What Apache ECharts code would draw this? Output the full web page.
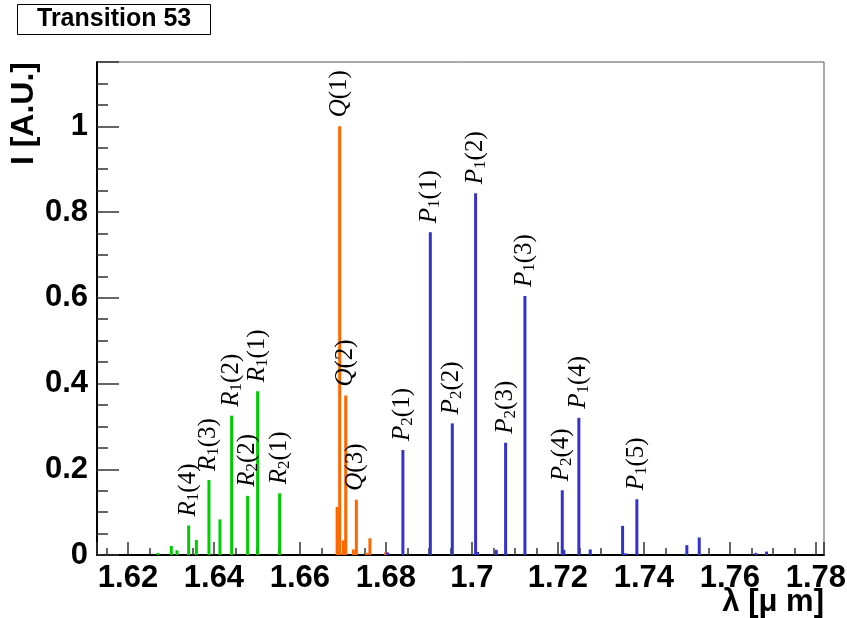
<!DOCTYPE html>
<html>
<head>
<meta charset="utf-8">
<script src="https://cdn.jsdelivr.net/npm/echarts@6/dist/echarts.min.js"></script>
<style>
  html, body { margin: 0; padding: 0; background: #fff; }
  #chart { width: 847px; height: 618px; }
</style>
</head>
<body>
<div id="chart"></div>
<script>
// R branch lines (µm, relative intensity, line label)
const rLambda    = [1.62698, 1.63009, 1.63140, 1.63412, 1.63591, 1.63884, 1.64140, 1.64412, 1.64784, 1.65016, 1.65528];
const rIntensity = [0.005,   0.021,   0.011,   0.069,   0.035,   0.175,   0.083,   0.325,   0.138,   0.382,   0.144];
const rLabels    = ['',      '',      '',      'R_1(4)', '',     'R_1(3)', '',      'R_1(2)', 'R_2(2)', 'R_1(1)', 'R_2(1)'];

// Q branch lines
const qLambda    = [1.66865, 1.66925, 1.67012, 1.67065, 1.67242, 1.67312, 1.67551, 1.67628, 1.67993];
const qIntensity = [0.112,   1.000,   0.034,   0.372,   0.013,   0.129,   0.005,   0.039,   0.006];
const qLabels    = ['',      'Q(1)',  '',      'Q(2)',  '',      'Q(3)',  '',      '',      ''];

// P branch lines
const pLambda    = [1.68040, 1.68395, 1.69033, 1.69544, 1.70086, 1.70133, 1.70567, 1.70784, 1.71233, 1.72102, 1.72140, 1.72488, 1.72753, 1.73505, 1.73574, 1.73837, 1.75000, 1.75288, 1.76605, 1.76853];
const pIntensity = [0.006,   0.245,   0.753,   0.307,   0.844,   0.007,   0.012,   0.262,   0.604,   0.151,   0.012,   0.320,   0.013,   0.068,   0.004,   0.130,   0.023,   0.041,   0.005,   0.008];
const pLabels    = ['',      'P_2(1)', 'P_1(1)', 'P_2(2)', 'P_1(2)', '',   '',      'P_2(3)', 'P_1(3)', 'P_2(4)', '',    'P_1(4)', '',      '',      '',      'P_1(5)', '',      '',      '',      ''];

// Axis tick labels
const xTickLabels = ['1.62', '1.64', '1.66', '1.68', '1.7', '1.72', '1.74', '1.76', '1.78'];
const yTickLabels = ['0', '0.2', '0.4', '0.6', '0.8', '1'];

const titleText = 'Transition 53';
const xTitle = 'λ [μ m]';
const yTitle = 'I [A.U.]';

// "R_1(4)" -> italic letter, subscript, upright rest
function toRich(s) {
  const m = s.match(/^([A-Z])(?:_(\d))?(.*)$/);
  let out = '{it|' + m[1] + '}';
  if (m[2]) out += '{sub|' + m[2] + '}';
  out += '{rm|' + m[3] + '}';
  return out;
}

const SERIF = '"Liberation Serif", "DejaVu Serif", serif';
const SANS = '"Liberation Sans", Arial, sans-serif';

const lineLabel = {
  position: 'top',
  rotate: 90,
  align: 'left',
  verticalAlign: 'middle',
  distance: 12,
  offset: [-3, 0],
  rich: {
    it:  { fontFamily: SERIF, fontStyle: 'italic', fontSize: 25, lineHeight: 26, verticalAlign: 'top', color: '#000' },
    rm:  { fontFamily: SERIF, fontSize: 25, lineHeight: 26, verticalAlign: 'top', color: '#000' },
    sub: { fontFamily: SERIF, fontSize: 17, lineHeight: 17, padding: [12, 0, 0, 0], verticalAlign: 'bottom', color: '#000' }
  }
};

function lineSeries(name, color, xs, ys, labels) {
  return {
    type: 'bar',
    name: name,
    barWidth: 3,
    barGap: '-100%',
    itemStyle: { color: color },
    label: lineLabel,
    emphasis: { disabled: true },
    data: xs.map((x, i) => ({
      value: [x, ys[i]],
      label: labels[i] ? { show: true, formatter: toRich(labels[i]) } : { show: false }
    }))
  };
}

function fmt(v) { return String(Number(v.toFixed(4))); }

const chart = echarts.init(document.getElementById('chart'), null, { renderer: 'canvas' });

chart.setOption({
  animation: false,
  backgroundColor: '#fff',
  title: {
    text: titleText,
    left: 17,
    top: 4,
    padding: [2, 20, 2, 20],
    borderColor: '#000',
    borderWidth: 1,
    backgroundColor: '#fff',
    textStyle: { fontFamily: SANS, fontWeight: 'bold', fontSize: 25, lineHeight: 27, color: '#000' }
  },
  grid: {
    left: 97, right: 23, top: 62, bottom: 63,
    containLabel: false,
    outerBoundsMode: 'none',
    show: true, borderColor: '#555', borderWidth: 1, backgroundColor: 'transparent'
  },
  xAxis: {
    type: 'value',
    min: 1.6128,
    max: 1.7819,
    splitNumber: 8,
    axisLine: { show: true, onZero: false, lineStyle: { color: '#000', width: 2 } },
    axisTick: { show: true, inside: true, length: 13, lineStyle: { color: '#333', width: 1.5 } },
    minorTick: { show: true, splitNumber: 4, length: 7, lineStyle: { color: '#333', width: 1.5 } },
    splitLine: { show: false },
    minorSplitLine: { show: false },
    axisLabel: {
      margin: 8,
      fontFamily: SANS, fontWeight: 'bold', fontSize: 31, color: '#000',
      formatter: v => { const s = fmt(v); return xTickLabels.includes(s) ? s : ''; }
    }
  },
  yAxis: {
    type: 'value',
    min: 0,
    max: 1.15,
    interval: 0.2,
    axisLine: { show: true, lineStyle: { color: '#000', width: 2 } },
    axisTick: { show: true, inside: true, length: 22, lineStyle: { color: '#333', width: 1.5 } },
    minorTick: { show: true, splitNumber: 4, length: 11, lineStyle: { color: '#333', width: 1.5 } },
    splitLine: { show: false },
    minorSplitLine: { show: false },
    axisLabel: {
      margin: 9,
      fontFamily: SANS, fontWeight: 'bold', fontSize: 31, color: '#000',
      formatter: v => { const s = fmt(v); return yTickLabels.includes(s) ? s : ''; }
    }
  },
  graphic: [
    {
      type: 'text', right: 23, top: 587,
      style: {
        text: xTitle,
        font: 'bold 31px "Liberation Sans", Arial, sans-serif',
        fill: '#000'
      }
    },
    {
      type: 'text', x: 24, y: 62, rotation: Math.PI / 2,
      style: {
        text: yTitle,
        font: 'bold 32px "Liberation Sans", Arial, sans-serif',
        fill: '#000',
        align: 'right',
        verticalAlign: 'middle'
      }
    }
  ],
  series: [
    lineSeries('R', '#00cc00', rLambda, rIntensity, rLabels),
    lineSeries('Q', '#ff6600', qLambda, qIntensity, qLabels),
    lineSeries('P', '#3333cc', pLambda, pIntensity, pLabels)
  ]
});
</script>
</body>
</html>
